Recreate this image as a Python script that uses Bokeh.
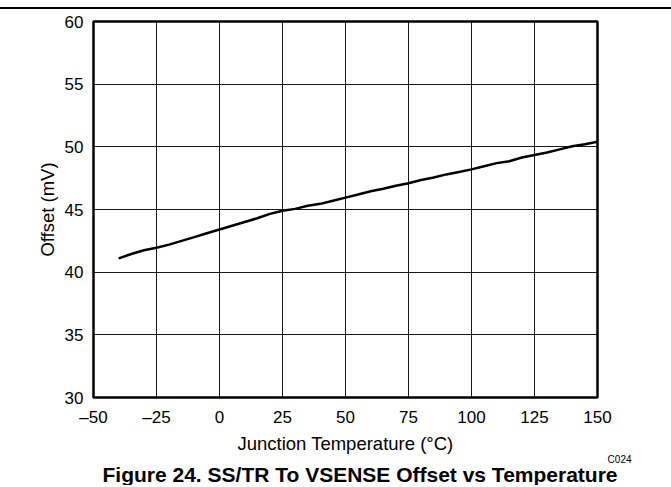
from bokeh.plotting import figure
from bokeh.models import Title, FixedTicker, Range1d
from bokeh.embed import file_html
from bokeh.resources import INLINE

# Data
temperature_c = [-40, -35, -30, -25, -20, -15, -10, -5, 0, 5, 10, 15, 20, 25, 30,
                 35, 40, 45, 50, 55, 60, 65, 70, 75, 80, 85, 90, 95, 100, 105,
                 110, 115, 120, 125, 130, 135, 140, 145, 150]
offset_mv = [41.1, 41.45, 41.75, 41.95, 42.2, 42.5, 42.8, 43.1, 43.4, 43.7, 44.0,
             44.3, 44.65, 44.9, 45.05, 45.3, 45.45, 45.7, 45.95, 46.2, 46.45,
             46.65, 46.9, 47.1, 47.35, 47.55, 47.8, 48.0, 48.2, 48.45, 48.7,
             48.85, 49.15, 49.35, 49.55, 49.8, 50.05, 50.2, 50.4]

x_ticks = [-50, -25, 0, 25, 50, 75, 100, 125, 150]
x_tick_labels = ["\u201350", "\u201325", "0", "25", "50", "75", "100", "125", "150"]
y_ticks = [30, 35, 40, 45, 50, 55, 60]

FONT = "Liberation Sans"

p = figure(width=671, height=478, output_backend="svg", toolbar_location=None,
           x_range=Range1d(-50, 150), y_range=Range1d(30, 60),
           min_border_left=93, min_border_right=74, min_border_top=12,
           min_border_bottom=89,
           styles={"margin-top": "7px", "border-top": "2px solid black"})
p.background_fill_color = "white"
p.border_fill_color = "white"
p.outline_line_color = "black"
p.outline_line_width = 2.5

p.line(temperature_c, offset_mv, line_color="black", line_width=2.5)

for ax in (p.xaxis[0], p.yaxis[0]):
    ax.axis_line_color = None
    ax.major_tick_in = 0
    ax.major_tick_out = 0
    ax.minor_tick_in = 0
    ax.minor_tick_out = 0
    ax.major_label_text_font = FONT
    ax.major_label_text_font_size = "17px"
    ax.major_label_text_color = "black"
    ax.axis_label_text_font = FONT
    ax.axis_label_text_font_size = "18.5px"
    ax.axis_label_text_font_style = "normal"
    ax.axis_label_text_color = "black"

p.xaxis.ticker = FixedTicker(ticks=x_ticks)
p.xaxis.major_label_overrides = dict(zip(x_ticks, x_tick_labels))
p.yaxis.ticker = FixedTicker(ticks=y_ticks)
p.xaxis.axis_label = "Junction Temperature (\u00b0C)"
p.yaxis.axis_label = "Offset (mV)"
p.xaxis.major_label_standoff = 10
p.xaxis.axis_label_standoff = 3
p.xaxis.axis_label_text_line_height = 0.6
p.yaxis.major_label_standoff = 10
p.yaxis.axis_label_standoff = 4

p.xgrid.ticker = FixedTicker(ticks=x_ticks)
p.ygrid.ticker = FixedTicker(ticks=y_ticks)
for g in (p.xgrid[0], p.ygrid[0]):
    g.grid_line_color = "black"
    g.grid_line_width = 1
    g.grid_line_alpha = 0.9

p.add_layout(Title(text="C024", text_font=FONT, text_font_size="10px",
                   text_font_style="normal", text_color="black",
                   align="right", offset=-34, standoff=-10), "below")
p.add_layout(Title(text="Figure 24. SS/TR To VSENSE Offset vs Temperature",
                   text_font=FONT, text_font_size="21px", text_font_style="bold",
                   text_color="black", align="left", offset=9, standoff=3),
             "below")

open("out.html", "w").write(file_html(p, INLINE))
